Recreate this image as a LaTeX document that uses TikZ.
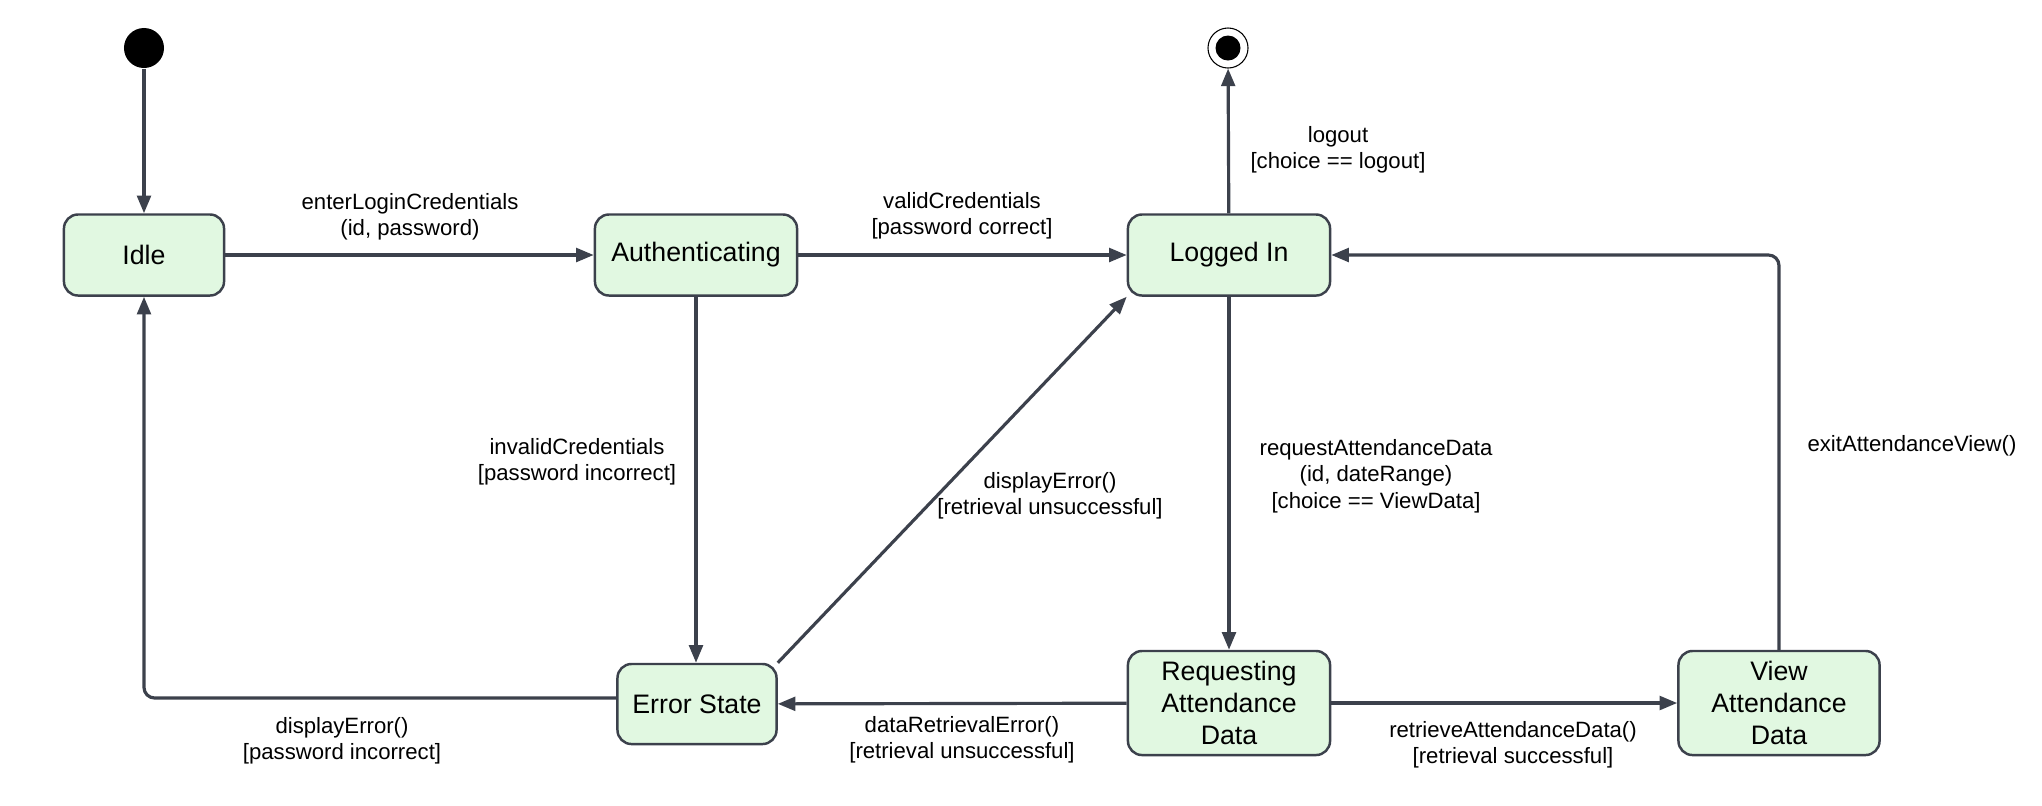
\documentclass[tikz,border=0pt]{standalone}
\usepackage{fontspec}
\setmainfont{Liberation Sans}
\usetikzlibrary{arrows.meta}
\definecolor{stategreen}{HTML}{E1F8E1}
\definecolor{edgegray}{HTML}{3C414C}
\tikzset{
  state/.style={draw=edgegray, line width=0.7pt, fill=stategreen, rounded corners=4pt,
    align=center, inner sep=0pt, font=\fontsize{7.6}{9}\selectfont},
  lbl/.style={align=center, inner sep=0pt, font=\fontsize{6.3}{7.5}\selectfont},
  flow/.style={draw=edgegray, line width=0.9pt}
}
\begin{document}
\begin{tikzpicture}[x=0.01cm, y=-0.01cm, >={Triangle[length=5pt,width=3.9pt]}]
\useasboundingbox (0,0) rectangle (2042,805);
\node[circle, fill=black, minimum size=0.4cm, inner sep=0pt] (init) at (144,48) {};
\node[circle, draw=black, line width=0.3pt, minimum size=0.4cm, inner sep=0pt] (final) at (1228,48) {};
\fill (final.center) circle (0.125cm);
\node[state, minimum width=1.6cm, minimum height=0.81cm] (idle) at (144,255) {Idle};
\node[state, minimum width=2.02cm, minimum height=0.81cm] (auth) at (696,255) {Authenticating};
\node[state, minimum width=2.02cm, minimum height=0.81cm] (logged) at (1229,255) {Logged In};
\node[state, minimum width=1.59cm, minimum height=0.8cm] (err) at (697,704) {Error State};
\node[state, minimum width=2.02cm, minimum height=1.04cm] (req) at (1229,703) {Requesting\\Attendance\\Data};
\node[state, minimum width=2.01cm, minimum height=1.04cm] (view) at (1779,703) {View\\Attendance\\Data};

\draw[flow,->] (init) -- (idle);
\draw[flow,->] (idle) -- (auth);
\draw[flow,->] (auth) -- (logged);
\draw[flow,->] (logged) -- (final);
\draw[flow,->] (auth) -- (auth |- err.north);
\draw[flow,->] (logged) -- (req);
\draw[flow,->] (req) -- (err);
\draw[flow,->] (req) -- (view);
\draw[flow,->] (err.north east) -- (logged.south west);
\draw[flow,->, rounded corners=3pt] ([yshift=0.06cm]err.west) -| (idle);
\draw[flow,->, rounded corners=3pt] (view) |- (logged);

\node[lbl] (tEnter) at (410,217) {enterLoginCredentials\\(id, password)};
\node[lbl] (tValid) at (962,216) {validCredentials\\{[password correct]}};
\node[lbl] (tLogout) at (1338,150) {logout\\{[choice == logout]}};
\node[lbl] (tInvalid) at (577,462) {invalidCredentials\\{[password incorrect]}};
\node[lbl] (tDispRet) at (1050,496) {displayError()\\{[retrieval unsuccessful]}};
\node[lbl] (tReq) at (1376,476) {requestAttendanceData\\(id, dateRange)\\{[choice == ViewData]}};
\node[lbl] (tExit) at (1912,446) {exitAttendanceView()};
\node[lbl] (tDispPw) at (342,741) {displayError()\\{[password incorrect]}};
\node[lbl] (tDataErr) at (962,740) {dataRetrievalError()\\{[retrieval unsuccessful]}};
\node[lbl] (tRetrieve) at (1513,745) {retrieveAttendanceData()\\{[retrieval successful]}};
\end{tikzpicture}
\end{document}
